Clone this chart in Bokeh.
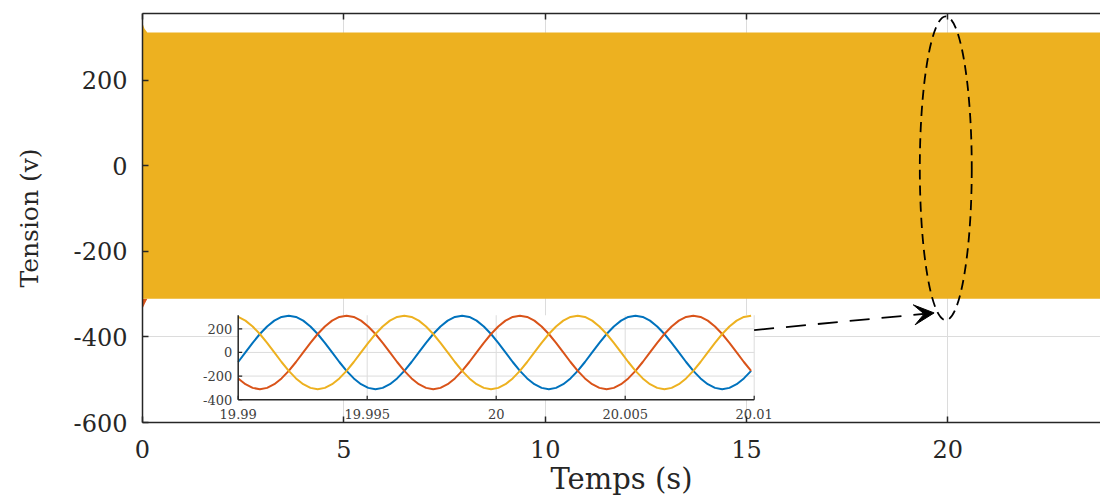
from bokeh.plotting import figure
from bokeh.models import Range1d, FixedTicker, LinearAxis, Arrow, VeeHead
from bokeh.core.properties import value
from bokeh.embed import file_html
from bokeh.resources import INLINE

# ---------------- data ----------------
x_ticks = [0, 5, 10, 15, 20]
x_tick_labels = ["0", "5", "10", "15", "20"]
y_ticks = [-600, -400, -200, 0, 200]
y_tick_labels = ["-600", "-400", "-200", "0", "200"]

# envelope of the dense three-phase voltage (appears as a solid band)
band_t = [0.0, 0.05, 0.12, 23.8]
band_hi = [333, 320, 311, 311]
band_lo = [-311, -311, -311, -311]
# small red start-up transient visible under the band at t = 0
red_start_t = [0.0, 0.06, 0.12]
red_start_lo = [-334, -322, -311]
red_start_hi = [-311, -311, -311]

# zoom inset: 19.99 s .. 20.01 s
inset_t = [19.99, 19.99028, 19.99056, 19.99084, 19.99112, 19.9914, 19.99168, 19.99196,
           19.99224, 19.99252, 19.9928, 19.99308, 19.99336, 19.99364, 19.99392, 19.9942,
           19.99448, 19.99476, 19.99504, 19.99532, 19.9956, 19.99588, 19.99616, 19.99644,
           19.99672, 19.997, 19.99728, 19.99756, 19.99784, 19.99812, 19.9984, 19.99868,
           19.99896, 19.99924, 19.99952, 19.9998, 20.00008, 20.00036, 20.00064, 20.00092,
           20.0012, 20.00148, 20.00176, 20.00204, 20.00232, 20.0026, 20.00288, 20.00316,
           20.00344, 20.00372, 20.004, 20.00428, 20.00456, 20.00484, 20.00512, 20.0054,
           20.00568, 20.00596, 20.00624, 20.00652, 20.0068, 20.00708, 20.00736, 20.00764,
           20.00792, 20.0082, 20.00848, 20.00876, 20.00904, 20.00932, 20.0096, 20.00988]
inset_blue = [-81, 0, 81, 156, 220, 269, 300, 311, 300, 269, 220, 156, 81, 0, -81, -156, -220, -269, -300, -311, -300, -269, -220, -156,
              -81, 0, 81, 156, 220, 269, 300, 311, 300, 269, 220, 156, 81, 0, -81, -156, -220, -269, -300, -311, -300, -269, -220, -156,
              -81, 0, 81, 156, 220, 269, 300, 311, 300, 269, 220, 156, 81, 0, -81, -156, -220, -269, -300, -311, -300, -269, -220, -156]
inset_red = [-220, -269, -300, -311, -300, -269, -220, -156, -81, 0, 81, 156, 220, 269, 300, 311, 300, 269, 220, 156, 81, 0, -81, -156,
             -220, -269, -300, -311, -300, -269, -220, -156, -81, 0, 81, 156, 220, 269, 300, 311, 300, 269, 220, 156, 81, 0, -81, -156,
             -220, -269, -300, -311, -300, -269, -220, -156, -81, 0, 81, 156, 220, 269, 300, 311, 300, 269, 220, 156, 81, 0, -81, -156]
inset_yellow = [300, 269, 220, 156, 81, 0, -81, -156, -220, -269, -300, -311, -300, -269, -220, -156, -81, 0, 81, 156, 220, 269, 300, 311,
                300, 269, 220, 156, 81, 0, -81, -156, -220, -269, -300, -311, -300, -269, -220, -156, -81, 0, 81, 156, 220, 269, 300, 311,
                300, 269, 220, 156, 81, 0, -81, -156, -220, -269, -300, -311, -300, -269, -220, -156, -81, 0, 81, 156, 220, 269, 300, 311]
inset_xticks = [19.99, 19.995, 20.0, 20.005, 20.01]
inset_xlabels = ["19.99", "19.995", "20", "20.005", "20.01"]
inset_yticks = [-400, -200, 0, 200]
inset_ylabels = ["-400", "-200", "0", "200"]
inset_xmin, inset_xmax = 19.99, 20.01
inset_ymin, inset_ymax = -400, 315

# zoom marker (ellipse) and arrow, in main-axis units
mark_t, mark_v, mark_w, mark_h = 19.95, -6, 1.29, 710
arrow_from = (15.19, -384)
arrow_to = (19.66, -344)

# ---------------- layout ----------------
W, H = 1100, 502
BL, BT, BR = 142, 13, 0
FH = 409
BB = H - BT - FH
FW = W - BL - BR
PX_PER_S = 40.265
X_START, X_END = 0, FW / PX_PER_S
Y_START, Y_END = -600, 355.6

# inset placement inside the frame (pixels)
INSET_LEFT_PX = 95.7
INSET_W_PX = 516.0
INSET_BOTTOM_PX = 386.2          # from frame top, where inset_ymin sits
INSET_PX_PER_V = 0.11817

ix_per_px = (inset_xmax - inset_xmin) / INSET_W_PX
ix_start = inset_xmin - INSET_LEFT_PX * ix_per_px
ix_end = ix_start + FW * ix_per_px
iy_per_px = 1.0 / INSET_PX_PER_V
iy_start = inset_ymin - (FH - INSET_BOTTOM_PX) * iy_per_px
iy_end = iy_start + FH * iy_per_px

FONT = "DejaVu Serif"
AX = "#262626"
GRID = "#dcdcdc"
BLUE, RED, YELLOW = "#0072BD", "#D95319", "#EDB120"

p = figure(width=W, height=H, output_backend="svg", toolbar_location=None,
           x_range=Range1d(X_START, X_END), y_range=Range1d(Y_START, Y_END),
           min_border_left=BL, min_border_right=BR, min_border_top=BT, min_border_bottom=BB)
p.extra_x_ranges = {"ix": Range1d(ix_start, ix_end)}
p.extra_y_ranges = {"iy": Range1d(iy_start, iy_end)}

p.outline_line_color = None
p.background_fill_color = "white"
p.border_fill_color = "white"

# top edge of the box: an unlabeled axis with inward ticks
top_axis = LinearAxis(ticker=FixedTicker(ticks=x_ticks),
                      major_label_overrides={t: "" for t in x_ticks},
                      major_label_text_font_size="0px", major_label_standoff=0)
p.add_layout(top_axis, "above")

p.xaxis.ticker = FixedTicker(ticks=x_ticks)
p.yaxis.ticker = FixedTicker(ticks=y_ticks)
p.below[0].major_label_overrides = {t: s for t, s in zip(x_ticks, x_tick_labels)}
p.yaxis.major_label_overrides = {t: s for t, s in zip(y_ticks, y_tick_labels)}
p.xgrid.ticker = FixedTicker(ticks=x_ticks)
p.ygrid.ticker = FixedTicker(ticks=y_ticks)
p.grid.grid_line_color = GRID
p.grid.grid_line_width = 1

p.axis.axis_line_color = AX
p.axis.axis_line_width = 1.5
p.axis.major_tick_line_color = AX
p.axis.major_tick_line_width = 1.5
p.axis.major_tick_in = 6
p.axis.major_tick_out = 0
p.axis.minor_tick_line_color = None
p.axis.axis_label_text_font = FONT
p.axis.axis_label_text_font_style = "normal"
p.axis.axis_label_text_color = AX

for ax in (p.below[0], p.left[0]):
    ax.major_label_text_font = FONT
    ax.major_label_text_font_size = "24px"
    ax.major_label_text_color = AX

p.below[0].major_label_standoff = 17
p.left[0].major_label_standoff = 15

p.below[0].axis_label = "Temps (s)"
p.below[0].axis_label_text_font_size = "29px"
p.below[0].axis_label_standoff = 1
p.left[0].axis_label = "Tension (v)"
p.left[0].axis_label_text_font_size = "25px"
p.left[0].axis_label_standoff = 27

# main signal band
p.varea(x=red_start_t, y1=red_start_lo, y2=red_start_hi, fill_color=RED)
p.varea(x=band_t, y1=band_lo, y2=band_hi, fill_color=YELLOW)

# zoom marker ellipse and arrow
p.ellipse(x=[mark_t], y=[mark_v], width=[mark_w], height=[mark_h], fill_color=None,
          line_color="black", line_width=1.8, line_dash="10 6")
p.add_layout(Arrow(end=VeeHead(size=20, fill_color="black", line_color="black"),
                   x_start=arrow_from[0], y_start=arrow_from[1],
                   x_end=arrow_to[0], y_end=arrow_to[1],
                   line_color="black", line_width=1.8, line_dash="20 12"))

# ---------------- inset ----------------
kw = dict(x_range_name="ix", y_range_name="iy")
p.quad(left=[inset_xmin], right=[inset_xmax], bottom=[inset_ymin], top=[inset_ymax],
       fill_color="white", line_color=None, **kw)
gx = inset_xticks[1:]
p.segment(x0=gx, x1=gx, y0=[inset_ymin] * len(gx), y1=[inset_ymax] * len(gx),
          line_color=GRID, line_width=1, **kw)
gy = inset_yticks[1:]
p.segment(x0=[inset_xmin] * len(gy), x1=[inset_xmax] * len(gy), y0=gy, y1=gy,
          line_color=GRID, line_width=1, **kw)

p.line(inset_t, inset_blue, line_color=BLUE, line_width=2, **kw)
p.line(inset_t, inset_red, line_color=RED, line_width=2, **kw)
p.line(inset_t, inset_yellow, line_color=YELLOW, line_width=2, **kw)

# inset axes
p.segment(x0=[inset_xmin, inset_xmin], x1=[inset_xmin, inset_xmax],
          y0=[inset_ymin, inset_ymin], y1=[inset_ymax, inset_ymin],
          line_color=AX, line_width=1.5, **kw)
p.segment(x0=inset_xticks, x1=inset_xticks, y0=[inset_ymin] * len(inset_xticks),
          y1=[inset_ymin + 4 * iy_per_px] * len(inset_xticks), line_color=AX, line_width=1.2, **kw)
p.segment(x0=[inset_xmin] * len(inset_yticks), x1=[inset_xmin + 4 * ix_per_px] * len(inset_yticks),
          y0=inset_yticks, y1=inset_yticks, line_color=AX, line_width=1.2, **kw)

p.text(x=inset_xticks, y=[inset_ymin] * len(inset_xticks), text=inset_xlabels,
       text_font=value(FONT), text_font_size="13px", text_color="#404040",
       text_align="center", text_baseline="top", y_offset=9, **kw)
p.text(x=[inset_xmin] * len(inset_yticks), y=inset_yticks, text=inset_ylabels,
       text_font=value(FONT), text_font_size="13px", text_color="#404040",
       text_align="right", text_baseline="middle", x_offset=-6, **kw)

open("out.html", "w").write(file_html(p, INLINE))
